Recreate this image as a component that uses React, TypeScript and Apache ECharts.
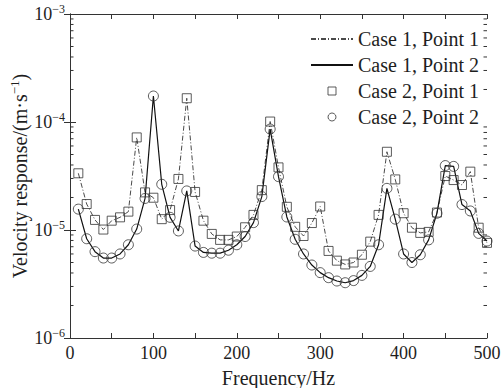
import React, { useEffect, useRef } from "react";
import * as echarts from "echarts";

const frequencies = [
  10, 20, 30, 40, 50, 60, 70, 80, 90, 100,
  110, 120, 130, 140, 150, 160, 170, 180, 190, 200,
  210, 220, 230, 240, 250, 260, 270, 280, 290, 300,
  310, 320, 330, 340, 350, 360, 370, 380, 390, 400,
  410, 420, 430, 440, 450, 460, 470, 480, 490, 500,
];

// Point 1 (Case 1 dash-dot line / Case 2 squares)
const case1Point1 = [
  3.35e-5, 1.74e-5, 1.24e-5, 1.01e-5, 1.22e-5, 1.31e-5, 1.48e-5, 7.2e-5, 2.23e-5, 1.99e-5,
  1.26e-5, 1.53e-5, 2.97e-5, 1.66e-4, 2.25e-5, 1.22e-5, 9.2e-6, 8.1e-6, 8.1e-6, 8.7e-6,
  1.06e-5, 1.38e-5, 2.34e-5, 1.01e-4, 3.8e-5, 1.64e-5, 1.07e-5, 8.8e-6, 1.16e-5, 1.65e-5,
  6.4e-6, 5.2e-6, 4.8e-6, 5.0e-6, 5.9e-6, 7.8e-6, 1.38e-5, 5.3e-5, 2.94e-5, 1.43e-5,
  1.05e-5, 9.4e-6, 9.6e-6, 1.45e-5, 3.16e-5, 2.9e-5, 2.61e-5, 3.47e-5, 1.05e-5, 7.6e-6,
];
const case2Point1 = [
  3.35e-5, 1.74e-5, 1.24e-5, 1.01e-5, 1.22e-5, 1.31e-5, 1.48e-5, 7.2e-5, 2.23e-5, 1.99e-5,
  1.26e-5, 1.53e-5, 2.97e-5, 1.66e-4, 2.25e-5, 1.22e-5, 9.2e-6, 8.1e-6, 8.1e-6, 8.7e-6,
  1.06e-5, 1.38e-5, 2.34e-5, 1.01e-4, 3.8e-5, 1.64e-5, 1.07e-5, 8.8e-6, 1.16e-5, 1.65e-5,
  6.4e-6, 5.2e-6, 4.8e-6, 5.0e-6, 5.9e-6, 7.8e-6, 1.38e-5, 5.3e-5, 2.94e-5, 1.43e-5,
  1.05e-5, 9.4e-6, 9.6e-6, 1.45e-5, 3.16e-5, 2.9e-5, 2.61e-5, 3.47e-5, 1.05e-5, 7.6e-6,
];

// Point 2 (Case 1 solid line / Case 2 circles)
const case1Point2 = [
  1.56e-5, 8.3e-6, 6.3e-6, 5.5e-6, 5.5e-6, 6.0e-6, 7.3e-6, 1.02e-5, 1.96e-5, 1.74e-4,
  2.65e-5, 1.31e-5, 9.8e-6, 2.3e-5, 7.1e-6, 6.2e-6, 6.1e-6, 6.1e-6, 6.5e-6, 7.3e-6,
  8.7e-6, 1.17e-5, 2.04e-5, 8.6e-5, 3.12e-5, 1.32e-5, 8.2e-6, 6.0e-6, 4.74e-6, 4.03e-6,
  3.62e-6, 3.37e-6, 3.25e-6, 3.4e-6, 3.8e-6, 4.6e-6, 7.3e-6, 2.43e-5, 1.26e-5, 6.0e-6,
  5.0e-6, 5.9e-6, 8.1e-6, 1.43e-5, 3.95e-5, 3.88e-5, 1.72e-5, 1.5e-5, 9.3e-6, 7.9e-6,
];
const case2Point2 = [
  1.56e-5, 8.3e-6, 6.3e-6, 5.5e-6, 5.5e-6, 6.0e-6, 7.3e-6, 1.02e-5, 1.96e-5, 1.74e-4,
  2.65e-5, 1.31e-5, 9.8e-6, 2.3e-5, 7.1e-6, 6.2e-6, 6.1e-6, 6.1e-6, 6.5e-6, 7.3e-6,
  8.7e-6, 1.17e-5, 2.04e-5, 8.6e-5, 3.12e-5, 1.32e-5, 8.2e-6, 6.0e-6, 4.74e-6, 4.03e-6,
  3.62e-6, 3.37e-6, 3.25e-6, 3.4e-6, 3.8e-6, 4.6e-6, 7.3e-6, 2.43e-5, 1.26e-5, 6.0e-6,
  5.0e-6, 5.9e-6, 8.1e-6, 1.43e-5, 3.95e-5, 3.88e-5, 1.72e-5, 1.5e-5, 9.3e-6, 7.9e-6,
];

const seriesNames = ["Case 1, Point 1", "Case 1, Point 2", "Case 2, Point 1", "Case 2, Point 2"];
const xTickLabels = [0, 100, 200, 300, 400, 500];
const yDecades = [-6, -5, -4, -3];
const minorMultipliers = [2, 3, 4, 5, 6, 7, 8, 9];

const FONT = "Liberation Serif";
const INK = "#1e1e1e";

function pairs(values: number[]) {
  return frequencies.map((f, i) => [f, values[i]]);
}

export default function App() {
  const ref = useRef<HTMLDivElement>(null);

  useEffect(() => {
    if (!ref.current) return;
    const chart = echarts.init(ref.current, undefined, { renderer: "svg" });

    const minorTicks: number[][] = [];
    for (let d = 0; d < yDecades.length - 1; d++) {
      for (const m of minorMultipliers) {
        minorTicks.push([0, m * Math.pow(10, yDecades[d])]);
      }
    }

    const supRich = {
      b: { fontSize: 18, fontFamily: FONT, color: INK, lineHeight: 22 },
      s: { fontSize: 12, fontFamily: FONT, color: INK, lineHeight: 12, verticalAlign: "top" },
    };

    const hiddenSymbol = { color: "rgba(0,0,0,0)", borderWidth: 0, opacity: 0 };
    const hollow = { color: "rgba(0,0,0,0)", borderColor: "#333", borderWidth: 1 };

    const option: any = {
      animation: false,
      backgroundColor: "#fff",
      textStyle: { fontFamily: FONT },
      grid: { left: 70, right: 15, top: 14, bottom: 50, containLabel: false, outerBoundsMode: "none" },
      legend: {
        data: [
          { name: seriesNames[0], itemStyle: hiddenSymbol },
          { name: seriesNames[1], itemStyle: hiddenSymbol },
          { name: seriesNames[2], icon: "path://M0,0H10V10H0Z", itemStyle: hollow },
          { name: seriesNames[3], icon: "circle", itemStyle: hollow },
        ],
        orient: "vertical",
        left: 305,
        top: 24,
        itemWidth: 42,
        itemHeight: 8,
        itemGap: 6,
        symbolKeepAspect: true,
        textStyle: { fontSize: 20, fontFamily: FONT, color: INK },
        selectedMode: false,
      },
      xAxis: [
        {
          type: "value",
          min: 0,
          max: 500,
          interval: 50,
          name: "Frequency/Hz",
          nameLocation: "middle",
          nameGap: 30,
          nameMoveOverlap: false,
          nameTextStyle: { fontSize: 20, fontFamily: FONT, color: INK },
          axisLine: { lineStyle: { color: "#333", width: 1 } },
          axisTick: { inside: true, length: 5, lineStyle: { color: "#333" } },
          axisLabel: {
            fontSize: 18,
            fontFamily: FONT,
            color: INK,
            margin: 6,
            formatter: (v: number) => (xTickLabels.includes(v) ? String(v) : ""),
          },
          splitLine: { show: false },
        },
        {
          type: "value",
          position: "top",
          min: 0,
          max: 500,
          interval: 50,
          axisLine: { lineStyle: { color: "#333", width: 1 } },
          axisTick: { inside: true, length: 5, lineStyle: { color: "#333" } },
          axisLabel: { show: false },
          splitLine: { show: false },
        },
      ],
      yAxis: [
        {
          type: "log",
          logBase: 10,
          min: 1e-6,
          max: 1e-3,
          name: "Velocity response/(m·s{s|−1})",
          nameLocation: "middle",
          nameGap: 38,
          nameMoveOverlap: false,
          nameTextStyle: {
            fontSize: 20,
            fontFamily: FONT,
            color: INK,
            lineHeight: 24,
            rich: { s: { fontSize: 13, fontFamily: FONT, color: INK, lineHeight: 13, verticalAlign: "top" } },
          },
          axisLine: { lineStyle: { color: "#333", width: 1 } },
          axisTick: { inside: true, length: 6, lineStyle: { color: "#333" } },
          axisLabel: {
            margin: 5,
            formatter: (v: number) => {
              const e = Math.round(Math.log10(v));
              return `{b|10}{s|${e < 0 ? "−" : ""}${Math.abs(e)}}`;
            },
            rich: supRich,
          },
          splitLine: { show: false },
          minorTick: { show: false },
        },
        {
          type: "log",
          logBase: 10,
          min: 1e-6,
          max: 1e-3,
          position: "right",
          axisLine: { lineStyle: { color: "#333", width: 1 } },
          axisTick: { inside: true, length: 6, lineStyle: { color: "#333" } },
          axisLabel: { show: false },
          splitLine: { show: false },
        },
      ],
      series: [
        {
          name: seriesNames[0],
          type: "line",
          data: pairs(case1Point1),
          symbol: "none",
          showSymbol: false,
          lineStyle: { color: "#4a4a4a", width: 1, type: [5, 2, 1, 2] },
          itemStyle: { color: "#4a4a4a" },
          z: 2,
        },
        {
          name: seriesNames[1],
          type: "line",
          data: pairs(case1Point2),
          symbol: "none",
          showSymbol: false,
          lineStyle: { color: "#111", width: 1.2 },
          itemStyle: { color: "#111" },
          z: 2,
        },
        {
          name: seriesNames[2],
          type: "scatter",
          data: pairs(case2Point1),
          symbol: "rect",
          symbolSize: 9,
          itemStyle: hollow,
          z: 3,
        },
        {
          name: seriesNames[3],
          type: "scatter",
          data: pairs(case2Point2),
          symbol: "circle",
          symbolSize: 10,
          itemStyle: hollow,
          z: 3,
        },
        {
          type: "custom",
          silent: true,
          clip: false,
          xAxisIndex: 0,
          yAxisIndex: 0,
          data: minorTicks,
          renderItem: (_p: any, api: any) => {
            const v = api.value(1);
            const pl = api.coord([0, v]);
            const pr = api.coord([500, v]);
            return {
              type: "group",
              children: [
                { type: "line", shape: { x1: pl[0], y1: pl[1], x2: pl[0] + 3.5, y2: pl[1] }, style: { stroke: "#333", lineWidth: 1 } },
                { type: "line", shape: { x1: pr[0] - 3.5, y1: pr[1], x2: pr[0], y2: pr[1] }, style: { stroke: "#333", lineWidth: 1 } },
              ],
            };
          },
        },
      ],
    };

    chart.setOption(option);
    return () => chart.dispose();
  }, []);

  return (
    <div
      ref={ref}
      style={{ position: "fixed", left: 0, top: 0, width: 502, height: 388, background: "#fff" }}
    />
  );
}
